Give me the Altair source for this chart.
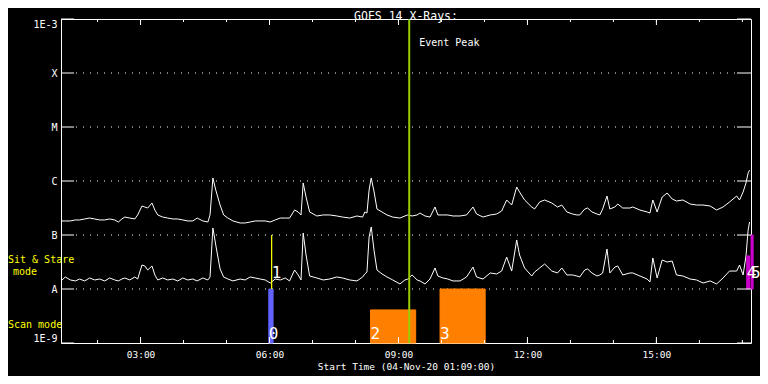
import json
import altair as alt
import pandas as pd

# ---------------- data ----------------
times = ["01:09","01:15","01:22","01:29","01:35","01:42","01:49","01:56","02:03","02:10",
         "02:17","02:24","02:29","02:34","02:38","02:45","02:52","02:56","03:02","03:06",
         "03:10","03:16","03:20","03:24","03:31","03:38","03:45","03:52","03:59","04:06",
         "04:13","04:19","04:27","04:34","04:37","04:41","04:45","04:51","04:56","05:02",
         "05:09","05:19","05:26","05:33","05:40","05:47","05:54","06:01","06:08","06:15",
         "06:22","06:28","06:35","06:40","06:44","06:47","06:51","06:56","07:06","07:15",
         "07:24","07:34","07:42","07:52","08:02","08:10","08:13","08:16","08:19","08:22",
         "08:26","08:30","08:37","08:44","08:52","09:02","09:09","09:13","09:19","09:26",
         "09:30","09:37","09:44","09:51","09:55","10:02","10:09","10:16","10:26","10:35",
         "10:44","10:49","10:58","11:08","11:17","11:24","11:31","11:38","11:45","11:49",
         "11:56","12:06","12:10","12:17","12:24","12:34","12:42","12:48","12:55","13:03",
         "13:09","13:13","13:20","13:24","13:30","13:37","13:41","13:45","13:51","13:55",
         "14:02","14:06","14:13","14:23","14:27","14:37","14:47","14:51","14:55","15:01",
         "15:08","15:15","15:22","15:28","15:37","15:47","15:56","16:05","16:15","16:24",
         "16:33","16:42","16:52","16:56","17:01","17:05","17:08","17:10"]

# 1-8 Angstrom channel (upper curve), W/m^2
long_flux = [1.82e-7,1.82e-7,1.82e-7,1.90e-7,1.90e-7,1.98e-7,2.06e-7,1.98e-7,1.90e-7,1.90e-7,
             1.98e-7,1.90e-7,1.74e-7,1.98e-7,2.15e-7,2.06e-7,1.98e-7,2.35e-7,3.44e-7,3.30e-7,
             3.16e-7,3.91e-7,2.90e-7,2.35e-7,2.15e-7,2.06e-7,1.98e-7,1.98e-7,1.90e-7,1.82e-7,
             1.82e-7,2.06e-7,1.82e-7,1.74e-7,2.35e-7,1.14e-6,6.81e-7,3.59e-7,2.35e-7,2.06e-7,
             1.82e-7,1.67e-7,1.67e-7,1.74e-7,1.82e-7,1.82e-7,1.82e-7,1.74e-7,1.90e-7,2.06e-7,
             2.06e-7,2.06e-7,2.90e-7,2.67e-7,2.35e-7,9.18e-7,5.05e-7,2.67e-7,2.25e-7,2.35e-7,
             2.35e-7,2.25e-7,2.15e-7,2.06e-7,2.25e-7,2.15e-7,2.67e-7,2.55e-7,6.81e-7,1.14e-6,
             6.25e-7,3.03e-7,2.67e-7,2.35e-7,2.15e-7,2.06e-7,2.25e-7,2.35e-7,2.25e-7,2.35e-7,
             2.55e-7,2.25e-7,2.15e-7,3.30e-7,2.35e-7,2.35e-7,2.35e-7,2.25e-7,2.25e-7,2.35e-7,
             3.30e-7,2.45e-7,2.15e-7,2.35e-7,2.45e-7,2.78e-7,4.45e-7,3.59e-7,7.74e-7,6.25e-7,
             4.45e-7,3.30e-7,3.03e-7,4.08e-7,4.45e-7,3.91e-7,3.30e-7,3.59e-7,2.67e-7,2.45e-7,
             2.35e-7,2.35e-7,3.03e-7,3.16e-7,2.67e-7,2.45e-7,2.35e-7,3.03e-7,5.27e-7,3.03e-7,
             3.30e-7,3.75e-7,3.16e-7,3.16e-7,3.30e-7,2.90e-7,2.67e-7,2.55e-7,4.45e-7,2.67e-7,
             5.05e-7,5.99e-7,4.64e-7,4.26e-7,4.45e-7,3.75e-7,3.59e-7,3.59e-7,3.44e-7,2.90e-7,
             3.30e-7,4.08e-7,5.27e-7,4.45e-7,6.25e-7,9.18e-7,1.41e-6,1.59e-6]

# 0.5-4 Angstrom channel (lower curve), W/m^2
short_flux = [1.41e-8,1.67e-8,1.47e-8,1.41e-8,1.53e-8,1.41e-8,1.60e-8,1.47e-8,1.53e-8,1.41e-8,
              1.60e-8,1.47e-8,1.41e-8,1.53e-8,1.60e-8,1.47e-8,1.67e-8,1.53e-8,2.78e-8,2.67e-8,
              2.25e-8,2.67e-8,1.82e-8,1.47e-8,1.60e-8,1.47e-8,1.53e-8,1.41e-8,1.60e-8,1.47e-8,
              1.53e-8,1.41e-8,1.60e-8,1.47e-8,1.67e-8,1.35e-7,6.52e-8,2.35e-8,1.67e-8,1.53e-8,
              1.41e-8,1.53e-8,1.47e-8,1.67e-8,1.60e-8,1.53e-8,1.47e-8,1.29e-8,1.53e-8,1.47e-8,
              1.60e-8,1.41e-8,2.25e-8,1.82e-8,1.47e-8,1.09e-7,4.26e-8,1.74e-8,1.60e-8,1.47e-8,
              1.53e-8,1.67e-8,1.60e-8,1.47e-8,1.41e-8,1.67e-8,1.90e-8,2.06e-8,9.18e-8,1.41e-7,
              5.05e-8,2.25e-8,1.90e-8,1.67e-8,1.47e-8,1.24e-8,1.47e-8,1.53e-8,1.82e-8,1.47e-8,
              1.41e-8,1.24e-8,1.53e-8,2.45e-8,1.74e-8,1.60e-8,1.53e-8,1.41e-8,1.41e-8,1.67e-8,
              2.55e-8,1.67e-8,1.53e-8,1.98e-8,1.90e-8,2.15e-8,3.91e-8,2.15e-8,8.08e-8,4.26e-8,
              2.45e-8,1.74e-8,2.06e-8,2.45e-8,2.90e-8,2.15e-8,1.98e-8,2.45e-8,1.82e-8,1.82e-8,
              1.74e-8,1.67e-8,2.25e-8,2.35e-8,1.98e-8,1.74e-8,1.82e-8,1.98e-8,5.50e-8,1.98e-8,
              2.55e-8,2.67e-8,1.82e-8,1.98e-8,1.98e-8,1.74e-8,1.53e-8,1.35e-8,3.75e-8,1.60e-8,
              3.44e-8,3.16e-8,3.30e-8,1.82e-8,1.74e-8,1.53e-8,1.47e-8,1.29e-8,1.41e-8,1.24e-8,
              1.60e-8,2.15e-8,2.15e-8,2.78e-8,1.82e-8,4.08e-8,1.23e-7,1.74e-7]

level_values = [1e-9, 1e-8, 1e-7, 1e-6, 1e-5, 1e-4, 1e-3]
level_labels = ["1E-9", "A", "B", "C", "M", "X", "1E-3"]

start_time = "01:09"
end_time = "17:12"
hour_ticks = ["02:00","03:00","04:00","05:00","06:00","07:00","08:00","09:00","10:00",
              "11:00","12:00","13:00","14:00","15:00","16:00","17:00"]
major_ticks = ["03:00", "06:00", "09:00", "12:00", "15:00"]
event_peak = "09:15"

bar_ids = ["0", "1", "2", "3", "4", "5"]
bar_start = ["05:59", "06:03", "08:21", "09:58", "17:06", "17:12"]
bar_end = ["06:05", "06:03", "09:24", "11:01", "17:10", "17:15"]
bar_low = [1e-9, 1e-8, 1e-9, 1e-9, 1e-8, 1e-8]
bar_high = [1e-8, 1e-7, 4.1e-9, 1e-8, 4.1e-8, 1e-7]
bar_mode = ["scan", "sit", "scan", "scan", "sit", "sit"]
bar_colors = ["#6262ff", "#ffff00", "#ff8000", "#ff8000", "#cc00cc", "#cc00cc"]

# ---------------- build ----------------
DAY = "2020-11-04"
FONT = "DejaVu Sans Mono"
W, H = 690, 324


def iso(hm):
    return f"{DAY}T{hm}:00"


def dt(hm):
    h, m = hm.split(":")
    return alt.DateTime(year=2020, month=11, date=4, hours=int(h), minutes=int(m))


lines_df = pd.DataFrame({
    "t": [iso(t) for t in times] * 2,
    "flux": long_flux + short_flux,
    "channel": ["long"] * len(times) + ["short"] * len(times),
})
levels_df = pd.DataFrame({"level": level_values})
inner_levels_df = pd.DataFrame({"level": level_values[1:-1]})
hours_df = pd.DataFrame({"t": [iso(t) for t in hour_ticks]})
major_df = pd.DataFrame({"t": [iso(t) for t in major_ticks]})
event_df = pd.DataFrame({"t": [iso(event_peak)], "label": ["Event Peak"]})
bars_df = pd.DataFrame({
    "id": bar_ids,
    "start": [iso(t) for t in bar_start],
    "end": [iso(t) for t in bar_end],
    "low": bar_low,
    "high": bar_high,
    "mode": bar_mode,
})

xscale = alt.Scale(domain=[dt(start_time), dt(end_time)])
yscale = alt.Scale(type="log", domain=[level_values[0], level_values[-1]], nice=False)

label_expr = json.dumps(level_labels) + "[round(log(datum.value)/LN10)+9]"

x_axis = alt.Axis(
    values=[dt(t) for t in major_ticks], format="%H:%M", ticks=False, domain=False,
    grid=False, labelColor="white", labelFontSize=9.5, labelPadding=6, labelFont=FONT,
    titleColor="white", titleFontSize=9.5,
    titleFontWeight="normal", titleFont=FONT, titlePadding=3,
)
y_axis = alt.Axis(
    values=level_values, labelExpr=label_expr, ticks=False, domain=False, grid=False,
    labelColor="white", labelFontSize=10, labelPadding=4, labelFlush=True, labelFont=FONT,
    title=None,
)

curves = alt.Chart(lines_df).mark_line(color="white", strokeWidth=1, clip=True).encode(
    x=alt.X("t:T", scale=xscale, axis=x_axis, title="Start Time (04-Nov-20 01:09:00)"),
    y=alt.Y("flux:Q", scale=yscale, axis=y_axis),
    detail="channel:N",
)

grid = alt.Chart(inner_levels_df).mark_rule(color="white", strokeDash=[1, 6], strokeWidth=1).encode(
    y=alt.Y("level:Q", scale=yscale),
    x=alt.value(15), x2=alt.value(W - 13),
)
left_ticks = alt.Chart(levels_df).mark_rule(color="white", strokeWidth=1).encode(
    y=alt.Y("level:Q", scale=yscale), x=alt.value(0), x2=alt.value(13),
)
right_ticks = alt.Chart(levels_df).mark_rule(color="white", strokeWidth=1).encode(
    y=alt.Y("level:Q", scale=yscale), x=alt.value(W - 14), x2=alt.value(W),
)
bottom_minor = alt.Chart(hours_df).mark_rule(color="white").encode(
    x=alt.X("t:T", scale=xscale), y=alt.value(H), y2=alt.value(H - 3))
top_minor = alt.Chart(hours_df).mark_rule(color="white").encode(
    x=alt.X("t:T", scale=xscale), y=alt.value(0), y2=alt.value(3))
bottom_major = alt.Chart(major_df).mark_rule(color="white").encode(
    x=alt.X("t:T", scale=xscale), y=alt.value(H), y2=alt.value(H - 6))
top_major = alt.Chart(major_df).mark_rule(color="white").encode(
    x=alt.X("t:T", scale=xscale), y=alt.value(0), y2=alt.value(6))

bars = alt.Chart(bars_df).mark_rect(strokeWidth=1).encode(
    x=alt.X("start:T", scale=xscale), x2="end:T",
    y=alt.Y("low:Q", scale=yscale), y2="high:Q",
    color=alt.Color("id:N", scale=alt.Scale(domain=bar_ids, range=bar_colors), legend=None),
    stroke=alt.Color("id:N", scale=alt.Scale(domain=bar_ids, range=bar_colors), legend=None),
)
scan_labels = alt.Chart(bars_df).transform_filter(alt.datum.mode == "scan").mark_text(
    color="white", fontSize=16, font=FONT, align="left", baseline="alphabetic", dx=0,
).encode(x=alt.X("start:T", scale=xscale), y=alt.value(320), text="id:N")
sit_labels = alt.Chart(bars_df).transform_filter(alt.datum.mode == "sit").mark_text(
    color="white", fontSize=16, font=FONT, align="left", baseline="alphabetic", dx=0,
).encode(x=alt.X("start:T", scale=xscale), y=alt.value(259), text="id:N")

event_line = alt.Chart(event_df).mark_rule(color="#9acd00", strokeWidth=2).encode(
    x=alt.X("t:T", scale=xscale), y=alt.value(0), y2=alt.value(H))
event_text = alt.Chart(event_df).mark_text(
    color="white", fontSize=10, font=FONT, align="left", baseline="middle", dx=10,
).encode(x=alt.X("t:T", scale=xscale), y=alt.value(24), text="label:N")

ann_df = pd.DataFrame({"txt": ["Sit & Stare", "mode", "Scan mode"]})
ann_sit = alt.Chart(ann_df).transform_filter(alt.datum.txt == "Sit & Stare").mark_text(
    color="yellow", fontSize=10, font=FONT, align="left", baseline="alphabetic",
).encode(x=alt.value(-53), y=alt.value(244), text="txt:N")
ann_mode = alt.Chart(ann_df).transform_filter(alt.datum.txt == "mode").mark_text(
    color="yellow", fontSize=10, font=FONT, align="left", baseline="alphabetic",
).encode(x=alt.value(-48), y=alt.value(256), text="txt:N")
ann_scan = alt.Chart(ann_df).transform_filter(alt.datum.txt == "Scan mode").mark_text(
    color="yellow", fontSize=10, font=FONT, align="left", baseline="alphabetic",
).encode(x=alt.value(-53), y=alt.value(309), text="txt:N")

chart = alt.layer(
    curves, grid, bars, event_line, left_ticks, right_ticks,
    bottom_minor, top_minor, bottom_major, top_major,
    scan_labels, sit_labels, event_text, ann_sit, ann_mode, ann_scan,
).properties(
    width=W, height=H,
    title=alt.TitleParams("GOES 14 X-Rays:", color="white", fontSize=11.5, font=FONT,
                          fontWeight="normal", anchor="middle", offset=0, dy=4),
    autosize=alt.AutoSizeParams(type="none"),
    padding={"left": 53, "top": 11, "right": 9, "bottom": 33},
).configure(
    background="black",
).configure_view(
    stroke="white", strokeWidth=1,
)

chart.save("out.html", embed_options={"renderer": "svg", "actions": False})
